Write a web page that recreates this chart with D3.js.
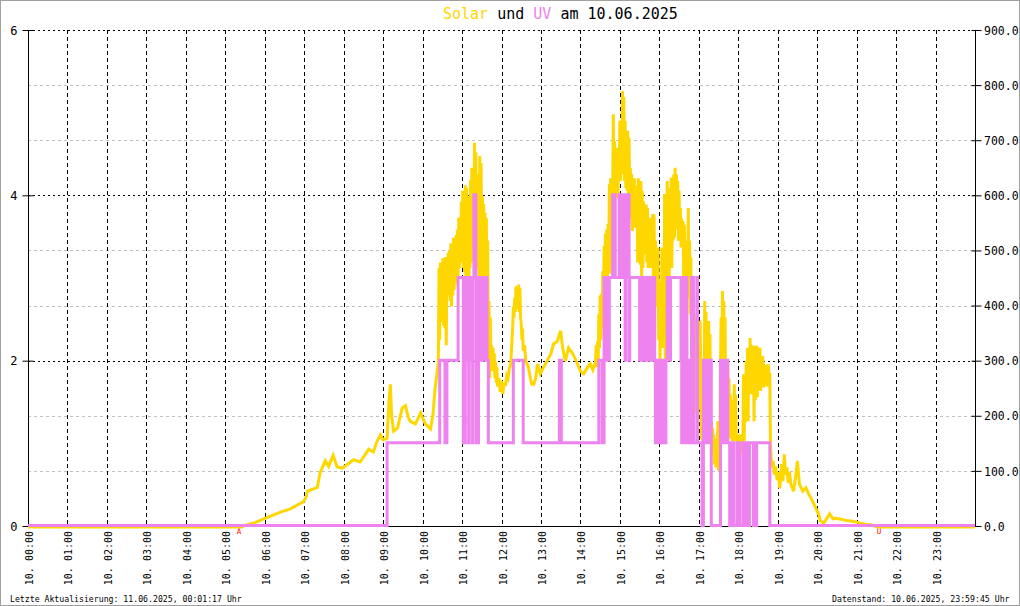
<!DOCTYPE html>
<html><head><meta charset="utf-8">
<script src="https://cdn.jsdelivr.net/npm/d3@7"></script>
<style>
body{margin:0;background:#fff;}
svg{display:block;}
text{font-family:"DejaVu Sans Mono",monospace;}
</style></head><body>
<svg id="c" width="1020" height="606"></svg>
<script>
// ---------- data ----------
const dayPrefix = "10.";
const hourLabels = ["00:00","01:00","02:00","03:00","04:00","05:00","06:00","07:00","08:00","09:00","10:00","11:00","12:00","13:00","14:00","15:00","16:00","17:00","18:00","19:00","20:00","21:00","22:00","23:00"];
const uvTicks = [0, 2, 4, 6];
const solarTicks = [0, 100, 200, 300, 400, 500, 600, 700, 800, 900];
const titleParts = ["Solar", " und ", "UV", " am 10.06.2025"];
const footerLeft = "Letzte Aktualisierung: 11.06.2025, 00:01:17 Uhr";
const footerRight = "Datenstand: 10.06.2025, 23:59:45 Uhr";
const markerLabels = ["A", "U"];
const markerMinutes = [321, 1294];

// solar radiation (W/m², right axis); time in minutes since midnight
const solarMinutes = [
 0,325,330,345,365,384,399,419,423,425, 434,440,444,452,457,464,470,478,486,495,
 505,518,525,531,536,540,546,549,551,553, 556,562,569,574,578,581,589,597,604,612, 616,619,621,
 624,625,626,627,628,629,630,631,632,633, 634,635,636,637,638,639,640,641,642,643,
 644,645,646,647,648,649,650,651,652,653, 654,655,656,657,658,659,660,661,662,663,
 664,665,666,667,668,669,670,671,672,673, 674,675,676,677,678,679,680,681,682,683,
 684,685,686,687,688,689,690,691,692,693, 694,695,696,697,698,699,700,701,702,703, 704,705,
 706,707,708,709,710,711,712,713,714,716, 718,720,722,724,726,728,730,732,734,736,
 737,738,739,740,741,742,743,744,745,746, 747,748,749,750,751,752,753,755,757,759, 761,764,766,
 769,772,775,779,784,787,795,799,805,808, 810,813,817,822,828,834,840,845,851,855, 859,
 863,864,865,866,867,868,869,870,871,872, 873,874,875,876,877,878,879,880,881,882,
 883,884,885,886,887,888,889,890,891,892, 893,894,895,896,897,898,899,900,901,902,
 903,904,905,906,907,908,909,910,911,912, 913,914,915,916,917,918,919,920,921,922,
 923,924,925,926,927,928,929,930,931,932, 933,934,935,936,937,938,939,940,941,942,
 943,944,945,946,947,948,949,950,951,952, 953,954,955,956,957,958,959,960,961,962,
 963,964,965,966,967,968,969,970,971,972, 973,974,975,976,977,978,979,980,981,982,
 983,984,985,986,987,988,989,990,991,992, 993,994,995,996,997,998,999,1000,1001,1002,
 1003,1004,1005,1006,1007,1008,1009,1010,1011,1012, 1013,1014,1015,1016,1017,1018,1019,1020,1021,1022,
 1023,1024,1025,1026,1027,1028,1029,1030,1031,1032, 1033,1034,1035,1036,1037,1038,1039,1040,1041,1042,
 1043,1044,1045,1046,1047,1048,1049,1050,1051,1052, 1053,1054,1055,1056,1057,1058,1059,1060,1061,1062,
 1063,1064,1065,1066,1067,1068,1069,1070,1071,1072, 1073,1074,1075,1076,1077,1078,1079,1080,1081,1082,
 1083,1084,1085,1086,1087,1088,1089,1090,1091,1092, 1093,1094,1095,1096,1097,1098,1099,1100,1101,1102,
 1103,1104,1105,1106,1107,1108,1109,1110,1111,1112, 1113,1114,1115,1116,1117,1118,1119,1120,1121,1122,
 1123,1124,1125,1126,1127,1128,
 1129,1130,1131,1133,1135,1137,1139,1141,1143,1145, 1146,1148,1150,1152,1154,1156,1158,1160,
 1164,1167,1170,1173,1178,1183,1187,1193,1198,1202, 1205,1210,1215,1219,1224,1228,1236,1244,1251,1259,
 1266,1274,1282,1292,1440];
const solarValues = [
 0,0,3,8,18,27,33,46,55,65, 69,72,98,120,110,130,109,107,114,122,
 118,141,136,156,167,158,161,230,259,200, 174,180,216,220,200,192,187,207,187,178, 205,252,270,
 301,470,340,480,372,470,380,488,365,475, 360,490,330,470,420,498,425,501,410,515,
 400,505,420,525,430,510,440,530,450,540, 455,561,470,545,480,590,490,610,470,600,
 462,620,430,615,434,590,300,600,470,630, 480,652,500,640,530,697,520,680,470,600,
 480,640,440,673,420,660,450,600,420,586, 430,570,410,560,350,520,300,410,270,380, 290,330,
 283,325,290,315,270,300,262,290,255,270, 245,265,241,262,256,275,270,289,296,340,
 361,400,380,416,390,437,395,430,400,440, 390,434,379,370,340,360,320,330,301,296, 289,270,259,
 259,270,296,278,290,296,314,332,337,350, 356,325,301,325,315,300,283,278,290,296, 285,
 300,330,290,337,300,386,325,420,340,423, 360,464,380,510,400,532,386,540,420,550,
 470,622,460,633,480,628,590,749,585,700, 600,664,597,688,600,660,640,737,628,720,
 659,791,640,780,628,737,615,719,610,719, 600,706,597,651,560,640,537,628,550,633,
 543,620,568,610,480,633,500,597,476,628, 452,610,470,591,495,579,506,585,480,579,
 470,560,490,561,470,555,480,568,440,567, 422,520,450,477,400,507,340,446,301,386,
 325,507,340,380,325,604,301,560,446,628, 470,600,452,615,480,634,470,600,520,640,
 525,652,540,640,550,628,519,610,530,579, 507,560,519,555,446,549,460,520,446,483,
 416,579,430,520,386,489,314,450,265,374, 280,386,207,340,265,374,213,350,230,374,
 277,160,240,144,270,174,410,168,390,180, 300,162,374,170,350,162,192,140,180,132,
 168,114,160,108,150,120,192,102,180,130, 289,380,300,428,320,410,250,380,192,300,
 220,301,180,270,162,241,160,230,156,200, 170,259,156,240,160,168,144,160,150,168,
 132,160,140,168,150,277,156,250,190,300, 200,325,192,310,250,343,241,330,260,320,
 329,192,310,230,320,329,235,300,250,320, 325,247,300,260,310,295,253,290,260,295,
 255,290,260,295,253,280,
 144,130,108,120,95,110,85,100,70,90, 114,83,132,95,108,80,100,78,
 65,89,120,78,65,71,60,47,34,24, 11,7,16,24,15,16,14,12,11,9,
 7,5,4,0,0];

// UV index (left axis), change points in minutes since midnight
const uvMinutes = [0,546,626,634,637,654,
 662,663,664,665,667,668,670,671,673,674,676,677,678,681,682,683,684,685,686,687,688,689,690,691,692,693,694,695,696,697,698,700,
 738,753,808,811,868,873,
 876,877,878,879,880,881,882,883,884,889,890,891,893,
 899,900,901,902,903,904,905,906,907,908,909,910,911,912,913,914,915,
 930,931,932,933,934,935,936,937,938,939,940,941,942,943,944,945,946,947,948,949,
 953,954,955,956,957,958,960,961,962,963,964,965,966,968,970,972,976,977,
 993,994,995,996,997,998,999,1000,1001,1002,1003,1004,1005,1006,1007,1008,1009,1010,1011,1012,1017,1018,
 1025,1027,1028,1029,1030,1031,1033,1034,1036,1037,1039,
 1053,1054,1055,1056,1057,1058,1059,1060,1061,1064,1067,1070,1073,1078,1082,1087,1088,1089,1090,1091,1092,1093,1094,1095,1096,1097,1103,1104,1105,1106,1107,1108,1128,
 1440];
const uvValues = [0,1,2,1,2,3,
 1,3,1,3,2,3,1,3,2,3,1,3,4,3,1,3,1,3,2,3,2,3,2,3,2,3,2,3,2,3,2,1,
 2,1,2,1,2,1,
 3,2,3,2,3,2,3,2,3,4,3,4,3,
 4,3,4,3,4,3,4,3,4,2,4,3,4,3,4,2,3,
 2,3,2,3,2,3,2,3,2,3,2,3,2,3,2,3,2,3,2,3,
 2,1,2,1,2,1,2,1,2,1,2,1,2,1,2,3,2,3,
 2,1,3,2,3,1,3,2,3,1,2,1,2,1,2,1,3,2,3,1,3,1,
 0,2,1,2,1,2,1,2,1,2,0,
 2,1,2,1,2,1,2,1,2,1,0,1,0,1,0,1,0,1,0,1,0,1,0,1,0,1,0,1,0,1,0,1,0,
 0];

if (solarMinutes.length !== solarValues.length) console.error("solar length mismatch", solarMinutes.length, solarValues.length);
if (uvMinutes.length !== uvValues.length) console.error("uv length mismatch", uvMinutes.length, uvValues.length);

// ---------- drawing ----------
const svg = d3.select("#c");
const L = 28, R = 975, T = 30, B = 526;
const x = d3.scaleLinear().domain([0, 1440]).range([L, R]);
const yUV = d3.scaleLinear().domain([0, 6]).range([B, T]);
const ySol = d3.scaleLinear().domain([0, 900]).range([B, T]);
const GOLD = "#FFD700", VIOLET = "#EE82EE";

svg.append("rect").attr("x", 0.5).attr("y", 0.5).attr("width", 1019).attr("height", 605)
  .attr("fill", "#fff").attr("stroke", "#a0a0a0");

// horizontal grid
svg.append("g").selectAll("line").data(solarTicks.filter(d => d > 0)).join("line")
  .attr("x1", L).attr("x2", R)
  .attr("y1", d => Math.round(ySol(d)) + 0.5).attr("y2", d => Math.round(ySol(d)) + 0.5)
  .attr("stroke", d => d % 300 === 0 ? "#000" : "#c0c0c0")
  .attr("stroke-dasharray", d => d % 300 === 0 ? "2,3" : "3,3");

// vertical grid
svg.append("g").selectAll("line").data(d3.range(1, 24)).join("line")
  .attr("x1", h => Math.round(x(h * 60)) + 0.5).attr("x2", h => Math.round(x(h * 60)) + 0.5)
  .attr("y1", T).attr("y2", B)
  .attr("stroke", "#000").attr("stroke-dasharray", "4,3");

// axes
const leftAxis = d3.axisLeft(yUV).tickValues(uvTicks).tickSize(6).tickFormat(d3.format("d"));
const gL = svg.append("g").attr("transform", `translate(${L + 0.5},0)`).call(leftAxis);
gL.select(".domain").attr("stroke", "#000").attr("d", `M0,${T}V${B}`);
gL.selectAll(".tick line").attr("x1", -6).attr("x2", 5).attr("stroke", "#000");
gL.selectAll(".tick text").attr("font-family", "DejaVu Sans Mono").attr("font-size", 12)
  .attr("fill", "#000").attr("x", -11).attr("dy", "0.36em");

const rightAxis = d3.axisRight(ySol).tickValues(solarTicks).tickSize(6).tickFormat(d3.format(".1f"));
const gR = svg.append("g").attr("transform", `translate(${R + 0.5},0)`).call(rightAxis);
gR.select(".domain").attr("stroke", "#000").attr("d", `M0,${T}V${B}`);
gR.selectAll(".tick line").attr("x1", -4).attr("x2", 6).attr("stroke", "#000");
gR.selectAll(".tick text").attr("font-family", "DejaVu Sans Mono").attr("font-size", 11.5)
  .attr("fill", "#000").attr("x", 8.5).attr("dy", "0.36em");

// bottom axis line
svg.append("line").attr("x1", L).attr("x2", R).attr("y1", B + 0.5).attr("y2", B + 0.5).attr("stroke", "#000");

// x labels (rotated)
const bottomAxis = d3.axisBottom(x).tickValues(d3.range(0, 24).map(h => h * 60)).tickSize(0)
  .tickFormat((d, i) => dayPrefix + " " + hourLabels[i]);
const gB = svg.append("g").attr("transform", `translate(0,${B})`).call(bottomAxis);
gB.select(".domain").remove();
gB.selectAll(".tick text").attr("font-family", "DejaVu Sans Mono").attr("font-size", 10)
  .attr("fill", "#000").attr("text-anchor", "end").attr("dy", 0).attr("y", 0)
  .attr("transform", "translate(4.5,5) rotate(-90)");

// solar line
const solarData = solarMinutes.map((m, i) => [m, solarValues[i]]);
svg.append("path").datum(solarData)
  .attr("fill", "none").attr("stroke", GOLD).attr("stroke-width", 3)
  .attr("transform", "translate(0,1)")
  .attr("d", d3.line().x(d => x(d[0])).y(d => ySol(d[1])));

// UV step line
const uvData = uvMinutes.map((m, i) => [m, uvValues[i]]);
svg.append("path").datum(uvData)
  .attr("fill", "none").attr("stroke", VIOLET).attr("stroke-width", 3)
  .attr("transform", "translate(0,-0.5)")
  .attr("d", d3.line().curve(d3.curveStepAfter).x(d => x(d[0])).y(d => yUV(d[1])));

// sunrise / sunset markers
svg.append("g").selectAll("text").data(markerLabels).join("text")
  .attr("x", (d, i) => x(markerMinutes[i])).attr("y", 533.5)
  .attr("text-anchor", "middle").attr("font-size", 7.5).attr("fill", "#f00")
  .attr("font-family", "DejaVu Sans Mono").text(d => d);

// title
const colors = [GOLD, "#000", VIOLET, "#000"];
const title = svg.append("text").attr("x", 443).attr("y", 18.5).attr("font-size", 15)
  .attr("xml:space", "preserve").style("white-space", "pre");
title.selectAll("tspan").data(titleParts).join("tspan")
  .attr("fill", (d, i) => colors[i]).text(d => d);

// footers
svg.append("text").attr("x", 10).attr("y", 601.5).attr("font-size", 8.2).attr("fill", "#000").text(footerLeft);
svg.append("text").attr("x", 1009.5).attr("y", 601.5).attr("font-size", 8.2).attr("text-anchor", "end").attr("fill", "#000").text(footerRight);
</script>
</body></html>
